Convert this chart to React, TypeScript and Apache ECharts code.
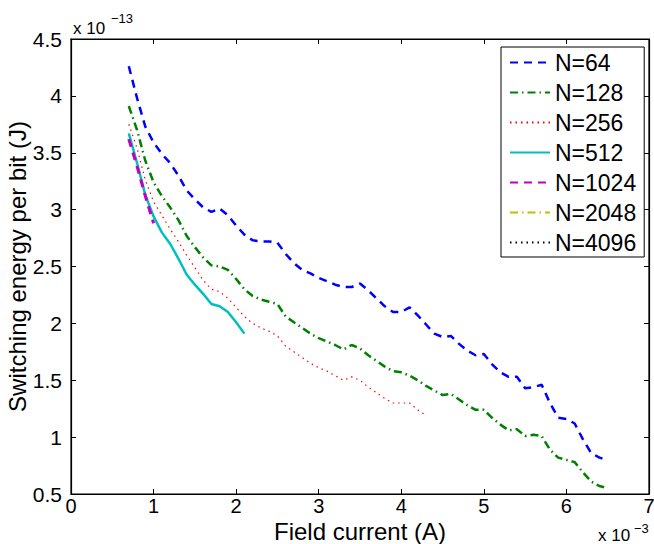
import React, { useEffect, useRef } from "react";
import * as echarts from "echarts";

// Field current, in units of 1e-3 A
const fieldCurrent = [
  0.7, 0.8, 0.9, 1.0, 1.1, 1.2, 1.3, 1.4, 1.5, 1.6,
  1.7, 1.8, 1.9, 2.0, 2.1, 2.2, 2.3, 2.4, 2.5, 2.6,
  2.7, 2.8, 2.9, 3.0, 3.1, 3.2, 3.3, 3.4, 3.5, 3.6,
  3.7, 3.8, 3.9, 4.0, 4.1, 4.2, 4.3, 4.4, 4.5, 4.6,
  4.7, 4.8, 4.9, 5.0, 5.1, 5.2, 5.3, 5.4, 5.5, 5.6,
  5.7, 5.8, 5.9, 6.0, 6.1, 6.2, 6.3, 6.4, 6.5,
];

// Switching energy per bit, in units of 1e-13 J
const energyN64 = [
  4.26, 3.98, 3.73, 3.59, 3.49, 3.41, 3.30, 3.17, 3.09, 3.02,
  2.98, 3.01, 2.95, 2.86, 2.78, 2.73, 2.72, 2.72, 2.71, 2.61,
  2.53, 2.47, 2.44, 2.40, 2.37, 2.34, 2.32, 2.32, 2.35, 2.29,
  2.22, 2.15, 2.10, 2.10, 2.14, 2.07, 1.99, 1.91, 1.88, 1.89,
  1.82, 1.76, 1.72, 1.73, 1.64, 1.57, 1.53, 1.53, 1.43, 1.44,
  1.46, 1.30, 1.17, 1.16, 1.12, 0.98, 0.86, 0.82, 0.80,
];
const energyN128 = [
  3.91, 3.70, 3.43, 3.24, 3.12, 3.02, 2.91, 2.77, 2.67, 2.58,
  2.51, 2.50, 2.47, 2.39, 2.30, 2.24, 2.21, 2.19, 2.17, 2.06,
  2.01, 1.96, 1.91, 1.87, 1.84, 1.81, 1.77, 1.81, 1.78, 1.72,
  1.67, 1.62, 1.58, 1.57, 1.54, 1.50, 1.45, 1.41, 1.37, 1.38,
  1.33, 1.28, 1.24, 1.24, 1.17, 1.11, 1.06, 1.07, 1.01, 1.02,
  1.01, 0.89, 0.82, 0.80, 0.78, 0.69, 0.61, 0.57, 0.55,
];
const energyN256 = [
  3.75, 3.54, 3.26, 3.07, 2.95, 2.83, 2.72, 2.60, 2.49, 2.38,
  2.30, 2.28, 2.22, 2.14, 2.06, 2.00, 1.96, 1.93, 1.89, 1.80,
  1.75, 1.70, 1.65, 1.61, 1.58, 1.54, 1.50, 1.53, 1.50, 1.44,
  1.39, 1.34, 1.30, 1.30, 1.30, 1.24, 1.19,
];
const energyN512 = [
  3.67, 3.41, 3.13, 2.94, 2.80, 2.70, 2.57, 2.43, 2.34, 2.26,
  2.17, 2.15, 2.10, 2.01, 1.91,
];
const energyN1024 = [3.62, 3.38, 3.12, 2.88];
const energyN2048 = [3.62];
const energyN4096 = [3.62];

const seriesNames = ["N=64", "N=128", "N=256", "N=512", "N=1024", "N=2048", "N=4096"];
const seriesValues = [energyN64, energyN128, energyN256, energyN512, energyN1024, energyN2048, energyN4096];

const xTicks = { min: 0, max: 7, interval: 1 };
const yTicks = { min: 0.5, max: 4.5, interval: 0.5 };

const FONT = "'Liberation Sans', Arial, Helvetica, sans-serif";

const styles = [
  { color: "#0000ff", width: 2.5, type: [8, 6] },
  { color: "#008000", width: 2.5, type: [8, 4, 1.5, 4] },
  { color: "#ff0000", width: 1.2, type: [1.5, 4] },
  { color: "#00bfbf", width: 2.5, type: "solid" },
  { color: "#bf00bf", width: 3, type: [8, 6] },
  { color: "#bfbf00", width: 2.5, type: [8, 4, 1.5, 4] },
  { color: "#000000", width: 1, type: [1.5, 4] },
];

export default function App() {
  const ref = useRef<HTMLDivElement>(null);
  useEffect(() => {
    const chart = echarts.init(ref.current!, null, { renderer: "svg" });
    const axisCommon = {
      type: "value" as const,
      axisLine: { show: true, onZero: false, lineStyle: { color: "#000", width: 1.2 } },
      axisTick: { show: true, inside: true, length: 5, lineStyle: { color: "#000", width: 1 } },
      splitLine: { show: false },
    };
    const option: any = {
      animation: false,
      backgroundColor: "#fff",
      textStyle: { fontFamily: FONT },
      grid: {
        left: 71, right: 5, top: 39, bottom: 50,
        containLabel: false,
        outerBoundsMode: "none",
        show: true,
        borderColor: "#000",
        borderWidth: 1.2,
        backgroundColor: "transparent",
      },
      xAxis: [
        {
          ...axisCommon,
          ...xTicks,
          position: "bottom",
          axisLabel: { fontSize: 20, lineHeight: 16, color: "#000", fontFamily: FONT, margin: 4 },
          name: "Field current (A)",
          nameLocation: "middle",
          nameGap: 28,
          nameMoveOverlap: false,
          nameTextStyle: { fontSize: 24, lineHeight: 18, color: "#000", fontFamily: FONT, verticalAlign: "top" },
        },
        {
          ...axisCommon,
          ...xTicks,
          position: "top",
          axisLabel: { show: false },
        },
      ],
      yAxis: [
        {
          ...axisCommon,
          ...yTicks,
          position: "left",
          axisLabel: { fontSize: 21, color: "#000", fontFamily: FONT, margin: 9 },
          name: "Switching energy per bit (J)",
          nameLocation: "middle",
          nameGap: 42,
          nameMoveOverlap: false,
          nameTextStyle: { fontSize: 24, color: "#000", fontFamily: FONT },
        },
        {
          ...axisCommon,
          ...yTicks,
          position: "right",
          axisLabel: { show: false },
        },
      ],
      legend: {
        orient: "vertical",
        left: 501,
        top: 47,
        itemWidth: 40,
        itemHeight: 14,
        itemGap: 7,
        padding: [4, 8, 3, 8],
        borderColor: "#000",
        borderWidth: 1,
        backgroundColor: "#fff",
        itemStyle: { opacity: 0 },
        textStyle: { fontSize: 23, color: "#000", fontFamily: FONT, lineHeight: 23 },
        data: seriesNames,
      },
      graphic: [
        { type: "text", left: 73, top: 20, style: { text: "x 10", font: `17px ${FONT}`, fill: "#000" } },
        { type: "text", left: 111, top: 12, style: { text: "−13", font: `13px ${FONT}`, fill: "#000" } },
        { type: "text", left: 598, top: 527, style: { text: "x 10", font: `17px ${FONT}`, fill: "#000" } },
        { type: "text", left: 634, top: 522, style: { text: "−3", font: `13px ${FONT}`, fill: "#000" } },
      ],
      series: seriesNames.map((name, i) => ({
        name,
        type: "line",
        xAxisIndex: i >= 5 ? 1 : 0,
        yAxisIndex: i >= 5 ? 1 : 0,
        symbol: "none",
        showSymbol: false,
        data: seriesValues[i].map((v, j) => [fieldCurrent[j], v]),
        lineStyle: { color: styles[i].color, width: styles[i].width, type: styles[i].type },
        itemStyle: { color: styles[i].color },
        z: 2 + i,
      })),
    };
    chart.setOption(option);
    return () => chart.dispose();
  }, []);
  return <div ref={ref} style={{ position: "fixed", left: 0, top: 0, width: 654, height: 544 }} />;
}
